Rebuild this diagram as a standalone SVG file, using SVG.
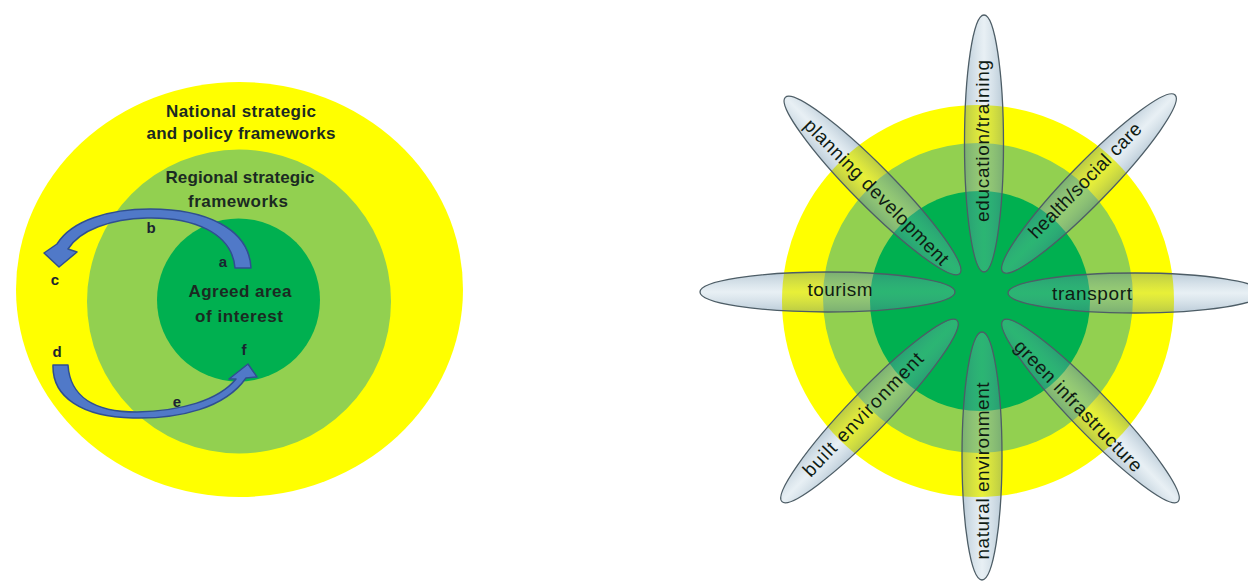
<svg xmlns="http://www.w3.org/2000/svg" width="1248" height="585" viewBox="0 0 1248 585">
  <style>
    .yellow { fill: #ffff00; }
    .lgreen { fill: #92d050; }
    .dgreen { fill: #00b050; }
    .ttl { font-family: "Liberation Sans", Arial, sans-serif; font-weight: bold; font-size: 17px; fill: #1b2a22; text-anchor: middle; }
    .lbl { font-family: "Liberation Sans", Arial, sans-serif; font-weight: bold; font-size: 15px; fill: #1b2430; text-anchor: middle; }
    .arrow { fill: #5079c8; stroke: #2f4f90; stroke-width: 1.5; stroke-linejoin: round; }
    .petal { fill: url(#petalGrad); stroke: #4d5d66; stroke-width: 1.3; }
    .ptxt { font-family: "Liberation Sans", Arial, sans-serif; font-size: 19px; fill: #0f1c14; text-anchor: middle; }
  </style>
  <defs>
    <linearGradient id="petalGrad" x1="0" y1="0" x2="0" y2="1">
      <stop offset="0" stop-color="#5a82a0" stop-opacity="0.42"/>
      <stop offset="0.5" stop-color="#a6c4d6" stop-opacity="0.26"/>
      <stop offset="1" stop-color="#5a82a0" stop-opacity="0.42"/>
    </linearGradient>
  </defs>
  <rect width="1248" height="585" fill="#ffffff"/>

  <!-- LEFT DIAGRAM -->
  <g id="national">
    <ellipse class="yellow" cx="239.5" cy="289.5" rx="223.5" ry="207.5"/>
    <text class="ttl" x="241" y="117" textLength="150">National strategic</text>
    <text class="ttl" x="241" y="139" textLength="189">and policy frameworks</text>
  </g>
  <g id="regional">
    <circle class="lgreen" cx="239" cy="301.5" r="152"/>
    <text class="ttl" x="240" y="183" textLength="149">Regional strategic</text>
    <text class="ttl" x="238" y="207" textLength="100">frameworks</text>
  </g>
  <g id="agreed">
    <circle class="dgreen" cx="238.5" cy="300" r="81.5"/>
    <text class="ttl" x="240" y="297" textLength="103">Agreed area</text>
    <text class="ttl" x="239" y="322" textLength="88">of interest</text>
  </g>

  <g id="connectors">
    <path class="arrow" d="M235,268 C232,232 192,217 147,218 C110,219 80,230 68,249 L77,252 L59,267 L44,253 L57,244 C72,220 110,209 150,209 C205,209 249,228 251,268 Z"/>
    <path class="arrow" d="M53,365 C52,397 82,417 133,418 C180,419 225,408 246,378 L257,377 L248,364 L229,379 L236,379 C218,401 180,411 137,412 C95,412 70,397 68,365 Z"/>
    <text class="lbl" x="151" y="233">b</text>
    <text class="lbl" x="55" y="285">c</text>
    <text class="lbl" x="223" y="267">a</text>
    <text class="lbl" x="57" y="357">d</text>
    <text class="lbl" x="244" y="355">f</text>
    <text class="lbl" x="177" y="407">e</text>
  </g>

  <!-- RIGHT DIAGRAM -->
  <g id="rings">
    <circle class="yellow" cx="978" cy="301" r="196"/>
    <circle class="lgreen" cx="978" cy="298" r="155"/>
    <circle class="dgreen" cx="980" cy="301" r="110"/>
  </g>

  <g id="petal-tourism">
    <ellipse class="petal" rx="127.5" ry="20" transform="translate(827.5 292)"/>
    <text class="ptxt" transform="translate(840 290)" dy="0.3em" textLength="65">tourism</text>
  </g>
  <g id="petal-transport">
    <ellipse class="petal" rx="127" ry="20" transform="translate(1135 293)"/>
    <text class="ptxt" transform="translate(1092 294)" dy="0.3em" textLength="80">transport</text>
  </g>
  <g id="petal-education">
    <ellipse class="petal" rx="128.5" ry="19.5" transform="translate(984 143.5) rotate(-90)"/>
    <text class="ptxt" transform="translate(983 141) rotate(-90)" dy="0.3em" textLength="162">education/training</text>
  </g>
  <g id="petal-natural">
    <ellipse class="petal" rx="124" ry="20" transform="translate(982 456) rotate(-90)"/>
    <text class="ptxt" transform="translate(983 471) rotate(-90)" dy="0.3em" textLength="177">natural environment</text>
  </g>
  <g id="petal-planning">
    <ellipse class="petal" rx="124" ry="20" transform="translate(872.5 185.5) rotate(45.3)"/>
    <text class="ptxt" transform="translate(876 192.5) rotate(45.3)" dy="0.3em" textLength="197">planning development</text>
  </g>
  <g id="petal-health">
    <ellipse class="petal" rx="123.5" ry="20" transform="translate(1089 183.5) rotate(-45.8)"/>
    <text class="ptxt" transform="translate(1085.5 181) rotate(-45.8)" dy="0.3em" textLength="153">health/social care</text>
  </g>
  <g id="petal-built">
    <ellipse class="petal" rx="126" ry="20" transform="translate(869.5 411) rotate(-46)"/>
    <text class="ptxt" transform="translate(863.5 415) rotate(-46)" dy="0.3em" textLength="164">built environment</text>
  </g>
  <g id="petal-green">
    <ellipse class="petal" rx="126" ry="20" transform="translate(1090.5 411) rotate(46)"/>
    <text class="ptxt" transform="translate(1078 406.5) rotate(46)" dy="0.3em" textLength="175">green infrastructure</text>
  </g>
</svg>
